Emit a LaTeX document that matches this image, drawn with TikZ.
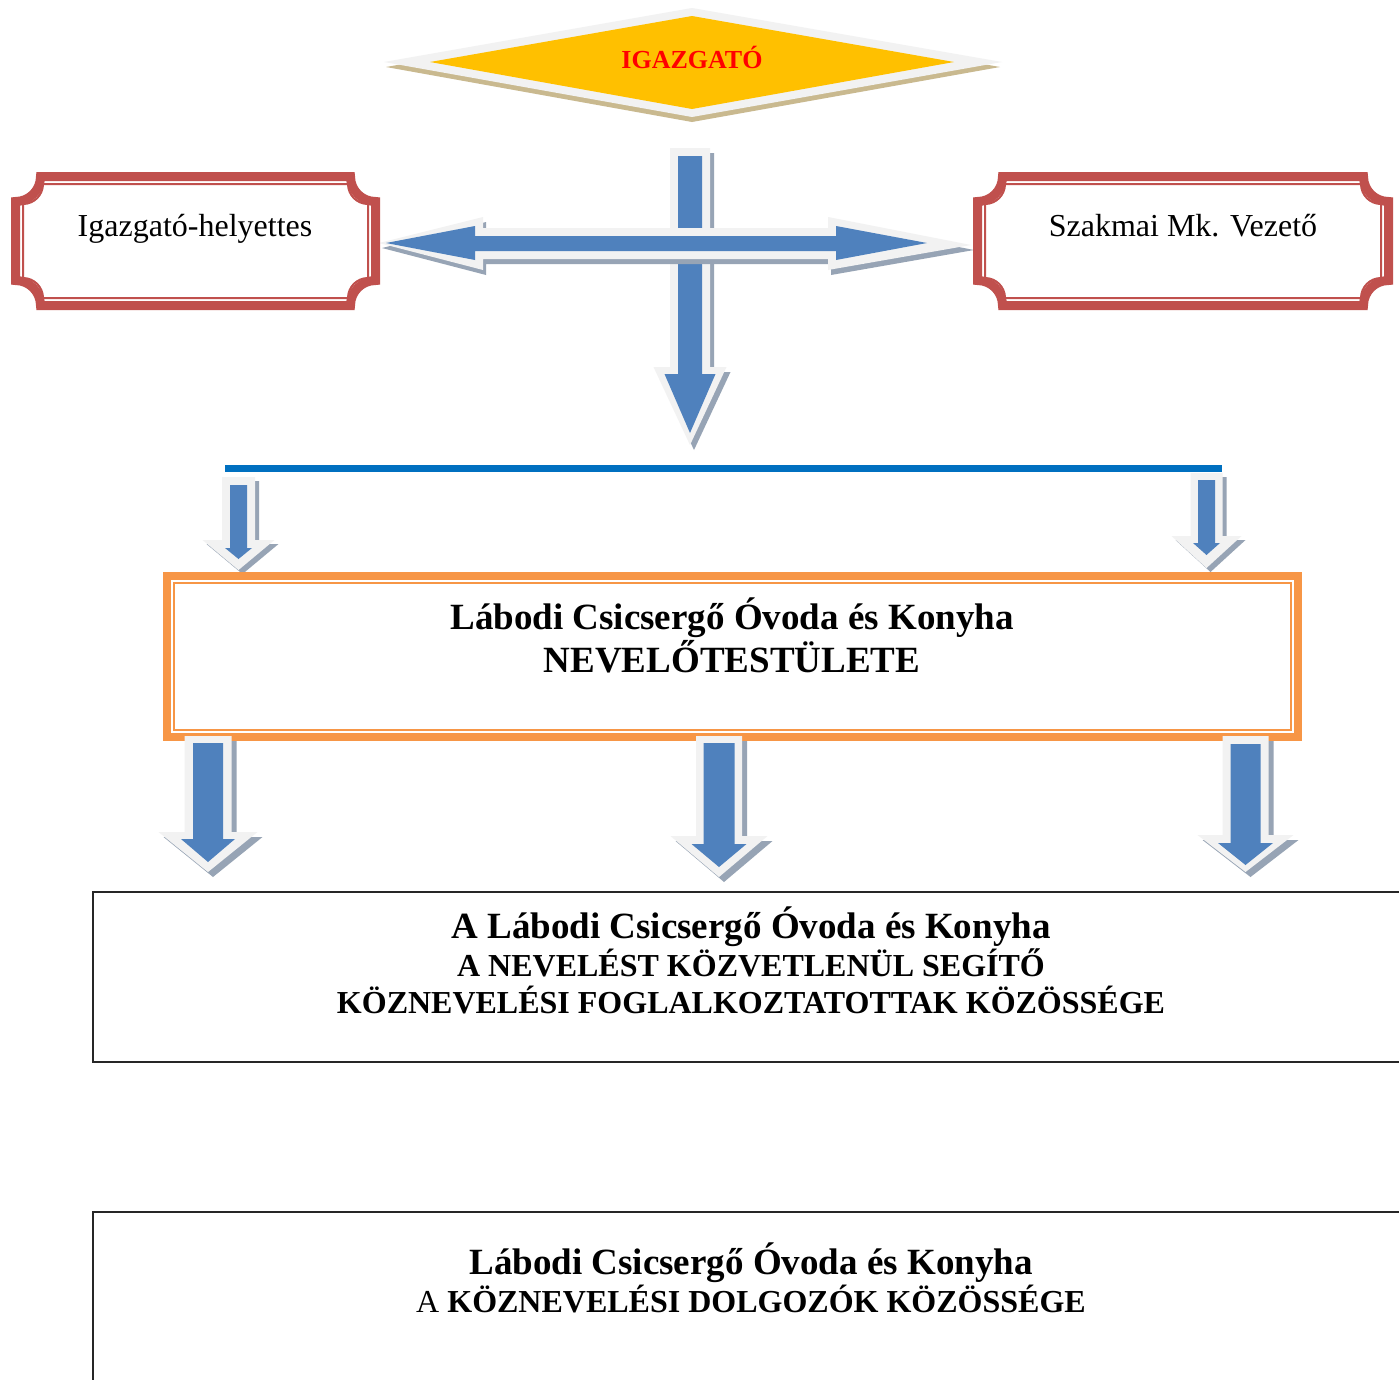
\documentclass[tikz,border=0pt]{standalone}
\usepackage{fontspec}
\setmainfont{Liberation Serif}
\definecolor{gold}{HTML}{FFC000}
\definecolor{dgray}{HTML}{F2F2F2}
\definecolor{beige}{HTML}{C9B98F}
\definecolor{boxred}{HTML}{C0504D}
\definecolor{orng}{HTML}{F79646}
\definecolor{ablue}{HTML}{4F81BD}
\definecolor{shadowc}{HTML}{97A4B5}
\definecolor{lblue}{HTML}{0070C0}
\newcommand\scallop[5]{(#1+#5,#2) -- (#3-#5,#2) arc[start angle=180,end angle=90,radius=#5] -- (#3,#4-#5) arc[start angle=270,end angle=180,radius=#5] -- (#1+#5,#4) arc[start angle=0,end angle=-90,radius=#5] -- (#1,#2+#5) arc[start angle=90,end angle=0,radius=#5] -- cycle}
\newcommand\arrpoly[6]{(#1-#3,#2) -- (#1+#3,#2) -- (#1+#3,#5) -- (#1+#4,#5) -- (#1,#6) -- (#1-#4,#5) -- (#1-#3,#5) -- cycle}
\tikzset{
  txt/.style={inner sep=0pt, anchor=base},
  big/.style={txt, font=\bfseries\fontsize{37}{43}\selectfont},
  mid/.style={txt, font=\bfseries\fontsize{32}{37}\selectfont},
  reg/.style={txt, font=\fontsize{32}{37}\selectfont},
  shad/.style={fill=shadowc},
  outl/.style={fill=dgray},
  core/.style={fill=ablue},
  frame/.style={draw=black!85, line width=2pt}
}
\begin{document}
\begin{tikzpicture}[x=1pt,y=-1pt]
\useasboundingbox[fill=white] (0,0) rectangle (1399,1379);
% director diamond
\fill[beige] (386,67) -- (692,13) -- (1000,67) -- (692,122) -- cycle;
\fill[dgray] (384,62) -- (692,8) -- (1002,62) -- (692,117) -- cycle;
\fill[gold] (430,62) -- (692,16) -- (954,62) -- (692,109) -- cycle;
\node[txt, text=red, font=\bfseries\fontsize{26}{30}\selectfont] (dir) at (692,68.5) {IGAZGATÓ};
% vertical arrow from director
\fill[shad, shift={(4,5)}] \arrpoly{690}{148}{20}{36.5}{367}{445};
\fill[outl] \arrpoly{690}{148}{20}{36.5}{367}{445};
\fill[core] \arrpoly{690}{156}{12}{25.5}{374}{433};
% horizontal double arrow
\fill[shad, shift={(3,5)}] (379,243) -- (483,217) -- (483,228) -- (828,228) -- (828,217) -- (971,245) -- (828,270) -- (828,259) -- (483,259) -- (483,270) -- cycle;
\fill[outl] (379,243) -- (483,217) -- (483,228) -- (828,228) -- (828,217) -- (971,245) -- (828,270) -- (828,259) -- (483,259) -- (483,270) -- cycle;
\fill[core] (386,243) -- (475,226) -- (475,236) -- (836,236) -- (836,226) -- (927,243) -- (836,260) -- (836,251) -- (475,251) -- (475,260) -- cycle;
% side boxes
\fill[white] \scallop{11}{172}{380}{310}{21};
\draw[boxred, line width=9pt] \scallop{15.5}{176.5}{375.5}{305.5}{25};
\draw[boxred, line width=2pt] \scallop{23}{184}{368}{298}{20};
\node[reg] (dep) at (195,236) {Igazgató-helyettes};
\fill[white] \scallop{973}{172}{1393}{310}{21};
\draw[boxred, line width=9pt] \scallop{977.5}{176.5}{1388.5}{305.5}{25};
\draw[boxred, line width=2pt] \scallop{985}{184}{1381}{298}{20};
\node[reg] (szak) at (1183,236) {Szakmai Mk. Vezető};
% blue distribution line
\draw[lblue, line width=7pt] (225,468) coordinate (lineL) -- (1222,468) coordinate (lineR);
% small arrows
\fill[shad, shift={(4,4)}] \arrpoly{238.5}{477}{16.5}{36}{540}{570};
\fill[outl] \arrpoly{238.5}{477}{16.5}{36}{540}{570};
\fill[core] \arrpoly{238.5}{485}{8.5}{13.5}{548}{559};
\fill[shad, shift={(4,4)}] \arrpoly{1206.5}{473}{16}{35}{536}{568};
\fill[outl] \arrpoly{1206.5}{473}{16}{35}{536}{568};
\fill[core] \arrpoly{1206.5}{480}{8.5}{13.5}{543}{555};
% staff box
\fill[white] (163,572) rectangle (1302,741);
\draw[orng, line width=8pt] (167,576) rectangle (1298,737);
\draw[orng, line width=2pt] (174,583) rectangle (1291,730);
\node[big] (nev1) at (732,629) {Lábodi Csicsergő Óvoda és Konyha};
\node[big] (nev2) at (732,672) {NEVELŐTESTÜLETE};
% three big arrows
\fill[shad, shift={(5,5)}] \arrpoly{208}{736}{23.5}{49.5}{832}{872};
\fill[outl] \arrpoly{208}{736}{23.5}{49.5}{832}{872};
\fill[core] \arrpoly{208}{743}{15}{27}{839}{862};
\fill[shad, shift={(5,5)}] \arrpoly{719}{736}{23}{48.5}{836}{877};
\fill[outl] \arrpoly{719}{736}{23}{48.5}{836}{877};
\fill[core] \arrpoly{719}{743}{15.5}{27.5}{844}{867};
\fill[shad, shift={(5,5)}] \arrpoly{1245.5}{736}{23}{48}{835}{872};
\fill[outl] \arrpoly{1245.5}{736}{23}{48}{835}{872};
\fill[core] \arrpoly{1245.5}{744}{15}{27.5}{843}{865};
% support staff box
\draw[frame] (93,892) rectangle (1412,1062);
\node[big] (koz1) at (751,938.5) {A Lábodi Csicsergő Óvoda és Konyha};
\node[mid] (koz2) at (751,976) {A NEVELÉST KÖZVETLENÜL SEGÍTŐ};
\node[mid] (koz3) at (751,1013) {KÖZNEVELÉSI FOGLALKOZTATOTTAK KÖZÖSSÉGE};
% workers box
\draw[frame] (93,1400) -- (93,1212) -- (1412,1212);
\node[big] (dol1) at (751,1274) {Lábodi Csicsergő Óvoda és Konyha};
\node[reg] (dol2) at (751,1312) {A \textbf{KÖZNEVELÉSI DOLGOZÓK KÖZÖSSÉGE}};
\end{tikzpicture}
\end{document}
